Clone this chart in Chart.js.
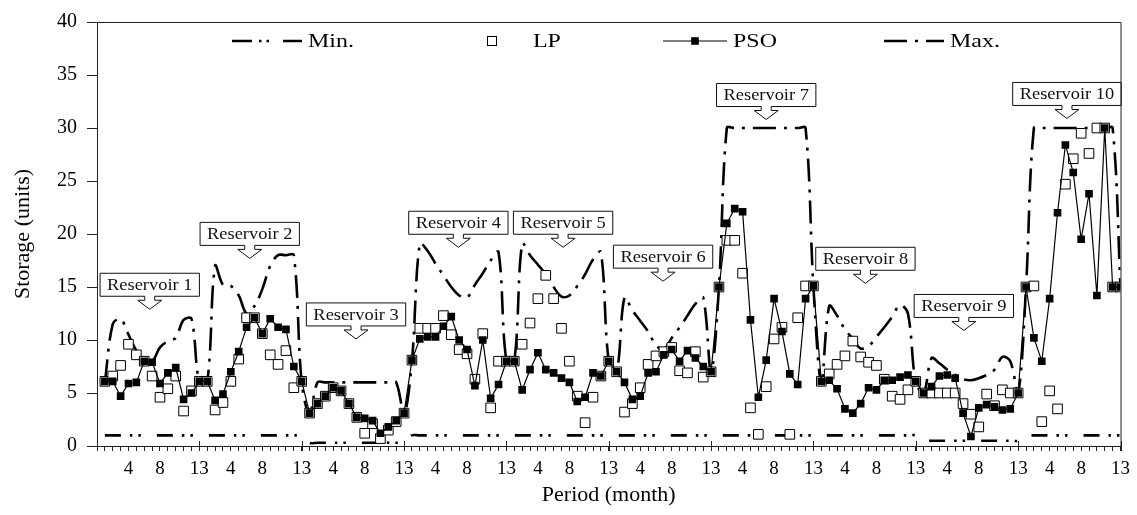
<!DOCTYPE html>
<html>
<head>
<meta charset="utf-8">
<title>Storage by period</title>
<script src="https://cdn.jsdelivr.net/npm/chart.js@4.4.1/dist/chart.umd.min.js"></script>
<style>
  body { margin: 0; background: #fff; }
  #wrap { width: 1137px; height: 515px; }
</style>
</head>
<body>
<div id="wrap"><canvas id="storageChart" width="1137" height="515"></canvas></div>
<script>
// 10 reservoirs, 13 periods each (periods 1..130 on the x axis)
var reservoirNames = ['Reservoir 1', 'Reservoir 2', 'Reservoir 3', 'Reservoir 4', 'Reservoir 5',
                      'Reservoir 6', 'Reservoir 7', 'Reservoir 8', 'Reservoir 9', 'Reservoir 10'];
var monthsPerReservoir = 13;
var monthTickLabels = [4, 8, 13];
var storageTicks = [0, 5, 10, 15, 20, 25, 30, 35, 40];

var psoStorage = [
  6.1, 6.1, 4.7, 5.9, 6.0, 8.0, 7.9, 5.9, 6.9, 7.4, 4.4, 5.0, 6.1,
  6.1, 4.3, 4.9, 7.0, 8.9, 11.2, 12.1, 10.6, 12.0, 11.2, 11.0, 7.5, 6.1,
  3.1, 4.0, 4.7, 5.5, 5.2, 4.0, 2.7, 2.6, 2.4, 1.2, 1.8, 2.4, 3.1,
  8.1, 10.1, 10.3, 10.3, 11.3, 12.2, 10.0, 9.1, 5.7, 10.0, 4.5, 5.8, 8.0,
  8.0, 5.3, 7.2, 8.8, 7.2, 6.9, 6.4, 6.0, 4.2, 4.6, 6.9, 6.6, 8.0,
  7.0, 6.0, 4.4, 4.7, 6.9, 7.0, 8.6, 9.1, 8.0, 9.0, 8.3, 7.5, 7.0,
  15.0, 21.0, 22.4, 22.1, 11.9, 4.6, 8.1, 13.9, 10.8, 6.8, 5.8, 13.9, 15.1,
  6.1, 6.2, 5.4, 3.5, 3.1, 4.0, 5.5, 5.3, 6.2, 6.2, 6.5, 6.7, 6.1,
  5.0, 5.6, 6.6, 6.7, 6.4, 3.1, 0.9, 3.6, 3.9, 3.7, 3.4, 3.5, 5.0,
  15.0, 10.2, 8.0, 13.9, 22.0, 28.4, 25.8, 19.5, 23.8, 14.2, 30.0, 15.0, 15.0
];

var lpStorage = [
  6.1, 6.6, 7.6, 9.6, 8.6, 8.0, 6.6, 4.6, 5.4, 6.6, 3.3, 5.2, 6.1,
  6.1, 3.4, 4.1, 6.1, 8.2, 12.1, 12.1, 10.6, 8.6, 7.7, 9.0, 5.5, 6.1,
  3.1, 4.0, 4.7, 5.5, 5.2, 4.0, 2.7, 1.2, 2.1, 0.7, 1.5, 2.3, 3.1,
  8.1, 11.1, 11.1, 11.1, 12.3, 10.5, 9.1, 8.7, 6.3, 10.6, 3.6, 8.0, 8.0,
  8.0, 9.6, 11.6, 13.9, 16.1, 13.9, 11.1, 8.0, 4.7, 2.2, 4.6, 6.6, 8.0,
  7.0, 3.2, 4.0, 5.5, 7.7, 8.5, 8.9, 9.3, 7.1, 6.9, 8.9, 6.5, 7.0,
  15.0, 19.4, 19.4, 16.3, 3.6, 1.1, 5.6, 10.1, 11.2, 1.1, 12.1, 15.1, 15.1,
  6.1, 6.8, 7.7, 8.5, 9.9, 8.4, 7.9, 7.6, 6.3, 4.7, 4.4, 5.3, 6.1,
  5.0, 5.0, 5.0, 5.0, 5.0, 4.0, 3.0, 1.8, 4.9, 3.8, 5.3, 5.0, 5.0,
  15.0, 15.1, 2.3, 5.2, 3.5, 24.7, 27.1, 29.5, 27.6, 30.0, 30.0, 15.0, 15.0
];

var maxStorage = [
  6, 11.5, 12, 10.5, 9, 8.1, 8.0, 9.3, 9.9, 10.2, 11.9, 12, 6,
  6, 17, 15.2, 15.1, 14.2, 12.5, 13.2, 14.8, 17, 18, 18, 18, 6,
  3, 6, 6, 6, 6, 6, 6, 6, 6, 6, 6, 6, 3,
  8, 19.1, 18.4, 17.2, 16.1, 15, 14.2, 14, 15.2, 16.3, 17.5, 18.3, 8,
  8, 19.1, 18, 17.1, 16.2, 15, 14.1, 14.2, 15.1, 16.2, 17.6, 18.3, 8,
  7, 14, 12.8, 11.8, 10.8, 9.5, 9.1, 10.2, 11.2, 12.3, 13.4, 14, 7,
  15, 30, 30, 30, 30, 30, 30, 30, 30, 30, 30, 30, 15,
  6, 13.2, 12.3, 11, 10.1, 9.2, 9.4, 10.3, 11.2, 12.2, 13.3, 12.5, 6,
  5, 8.3, 7.8, 7.2, 6.7, 6.3, 6.2, 6.4, 6.7, 7.2, 8.4, 8.0, 5,
  15, 30, 30, 30, 30, 30, 30, 30, 30, 30, 30, 30, 15
];

var minStorage = [
  1, 1, 1, 1, 1, 1, 1, 1, 1, 1, 1, 1, 1,
  1, 1, 1, 1, 1, 1, 1, 1, 1, 1, 1, 1, 1,
  0.3, 0.3, 0.3, 0.3, 0.3, 0.3, 0.3, 0.3, 0.3, 0.3, 0.3, 0.3, 0.3,
  1, 1, 1, 1, 1, 1, 1, 1, 1, 1, 1, 1, 1,
  1, 1, 1, 1, 1, 1, 1, 1, 1, 1, 1, 1, 1,
  1, 1, 1, 1, 1, 1, 1, 1, 1, 1, 1, 1, 1,
  1, 1, 1, 1, 1, 1, 1, 1, 1, 1, 1, 1, 1,
  1, 1, 1, 1, 1, 1, 1, 1, 1, 1, 1, 1, 1,
  0.5, 0.5, 0.5, 0.5, 0.5, 0.5, 0.5, 0.5, 0.5, 0.5, 0.5, 0.5, 0.5,
  1, 1, 1, 1, 1, 1, 1, 1, 1, 1, 1, 1, 1
];

// where each reservoir callout sits: centre period and arrow tip (storage units)
var calloutAnchors = [
  { x: 6.7, tip: 12.9 }, { x: 19.4, tip: 17.7 }, { x: 32.9, tip: 10.1 },
  { x: 45.9, tip: 18.75 }, { x: 59.2, tip: 18.75 }, { x: 71.9, tip: 15.55 },
  { x: 85.0, tip: 30.8 }, { x: 97.6, tip: 15.35 }, { x: 110.1, tip: 10.9 },
  { x: 123.2, tip: 30.9 }
];

var SERIF = '"Liberation Serif", "Times New Roman", serif';
var MIN_DASH = [16, 9, 2.5, 6, 2.5, 16];
var MAX_DASH = [23, 8, 3, 8];

function toPoints(values) {
  return values.map(function (v, i) { return { x: i + 1, y: v }; });
}

function stretchedText(ctx, text, x, y, sx) {
  ctx.save();
  ctx.translate(x, y);
  ctx.scale(sx, 1);
  ctx.fillText(text, 0, 0);
  ctx.restore();
}

// top/right frame plus the longer ticks between reservoirs
var framePlugin = {
  id: 'frame',
  afterDraw: function (chart) {
    var ctx = chart.ctx, a = chart.chartArea, xs = chart.scales.x;
    ctx.save();
    ctx.strokeStyle = '#222';
    ctx.lineWidth = 1;
    ctx.beginPath();
    ctx.moveTo(a.left, a.top + 0.5);
    ctx.lineTo(a.right + 0.5, a.top + 0.5);
    ctx.lineTo(a.right + 0.5, a.bottom);
    for (var k = 1; k <= reservoirNames.length; k++) {
      var px = Math.round(xs.getPixelForValue(k * monthsPerReservoir)) + 0.5;
      ctx.moveTo(px, a.bottom - 5);
      ctx.lineTo(px, a.bottom + 5);
    }
    ctx.stroke();
    ctx.restore();
  }
};

// "Reservoir n" boxes with a hollow down arrow
var calloutPlugin = {
  id: 'callouts',
  afterDatasetsDraw: function (chart) {
    var ctx = chart.ctx, xs = chart.scales.x, ys = chart.scales.y;
    ctx.save();
    ctx.font = '16px ' + SERIF;
    ctx.textAlign = 'center';
    ctx.textBaseline = 'middle';
    calloutAnchors.forEach(function (c, i) {
      var name = reservoirNames[i];
      var cx = xs.getPixelForValue(c.x);
      var tip = ys.getPixelForValue(c.tip);
      var w = ctx.measureText(name).width * 1.15 + 14;
      var bottom = tip - 13, top = bottom - 23;
      var left = cx - w / 2, right = cx + w / 2;
      ctx.beginPath();
      ctx.moveTo(left, top);
      ctx.lineTo(right, top);
      ctx.lineTo(right, bottom);
      ctx.lineTo(cx + 5, bottom);
      ctx.lineTo(cx + 5, bottom + 4);
      ctx.lineTo(cx + 12, bottom + 4);
      ctx.lineTo(cx, tip);
      ctx.lineTo(cx - 12, bottom + 4);
      ctx.lineTo(cx - 5, bottom + 4);
      ctx.lineTo(cx - 5, bottom);
      ctx.lineTo(left, bottom);
      ctx.closePath();
      ctx.fillStyle = '#fff';
      ctx.fill();
      ctx.strokeStyle = '#111';
      ctx.lineWidth = 1;
      ctx.stroke();
      ctx.fillStyle = '#111';
      stretchedText(ctx, name, cx, (top + bottom) / 2 + 1, 1.15);
    });
    ctx.restore();
  }
};

// legend row across the top of the plot
var legendPlugin = {
  id: 'topLegend',
  afterDraw: function (chart) {
    var ctx = chart.ctx, y = 41;
    ctx.save();
    ctx.strokeStyle = '#000';
    ctx.fillStyle = '#000';

    ctx.lineWidth = 2.6;
    ctx.setLineDash([20, 7, 2.5, 5, 2.5, 14]);
    ctx.beginPath(); ctx.moveTo(232, y); ctx.lineTo(302, y); ctx.stroke();

    ctx.setLineDash(MAX_DASH);
    ctx.beginPath(); ctx.moveTo(884, y); ctx.lineTo(944, y); ctx.stroke();
    ctx.setLineDash([]);

    ctx.lineWidth = 1.2;
    ctx.beginPath(); ctx.moveTo(663, y); ctx.lineTo(727, y); ctx.stroke();
    ctx.fillRect(695 - 3.8, y - 3.8, 7.6, 7.6);

    ctx.lineWidth = 1;
    ctx.fillStyle = '#fff';
    ctx.fillRect(487.5, y - 4.5, 9, 9);
    ctx.strokeRect(487.5, y - 4.5, 9, 9);

    ctx.fillStyle = '#000';
    ctx.font = '18px ' + SERIF;
    ctx.textBaseline = 'alphabetic';
    ctx.textAlign = 'left';
    stretchedText(ctx, 'Min.', 308, 47, 1.33);
    stretchedText(ctx, 'LP', 533, 47, 1.33);
    stretchedText(ctx, 'PSO', 733, 47, 1.33);
    stretchedText(ctx, 'Max.', 950, 47, 1.33);
    ctx.restore();
  }
};

var canvas = document.getElementById('storageChart').getContext('2d');
var chart = new Chart(canvas, {
  type: 'line',
  data: {
    datasets: [{
      label: 'PSO',
      data: toPoints(psoStorage),
      borderColor: '#000',
      borderWidth: 1.2,
      pointStyle: 'rect',
      pointRadius: 5.4,
      pointBackgroundColor: '#000',
      pointBorderColor: '#000',
      pointBorderWidth: 0,
      tension: 0,
      order: 0
    }, {
      label: 'LP',
      data: toPoints(lpStorage),
      showLine: false,
      pointStyle: 'rect',
      pointRadius: 6.8,
      pointBackgroundColor: '#fff',
      pointBorderColor: '#000',
      pointBorderWidth: 1,
      order: 1
    }, {
      label: 'Max.',
      data: toPoints(maxStorage),
      borderColor: '#000',
      borderWidth: 2.6,
      borderDash: MAX_DASH,
      pointRadius: 0,
      tension: 0.35,
      order: 2
    }, {
      label: 'Min.',
      data: toPoints(minStorage),
      borderColor: '#000',
      borderWidth: 2.6,
      borderDash: MIN_DASH,
      pointRadius: 0,
      tension: 0.35,
      order: 3
    }]
  },
  options: {
    responsive: false,
    animation: false,
    events: [],
    layout: { padding: { top: 15, right: 14, left: 0, bottom: 0 } },
    plugins: {
      legend: { display: false },
      tooltip: { enabled: false }
    },
    scales: {
      x: {
        type: 'linear',
        min: 0,
        max: reservoirNames.length * monthsPerReservoir,
        afterFit: function (scale) { scale.height = 69; },
        ticks: {
          stepSize: 1,
          maxTicksLimit: 200,
          autoSkip: false,
          minRotation: 0,
          maxRotation: 0,
          padding: 7,
          color: '#000',
          font: { family: SERIF, size: 19 },
          callback: function (value) {
            if (value <= 0) return '';
            var month = ((value - 1) % monthsPerReservoir) + 1;
            return monthTickLabels.indexOf(month) >= 0 ? String(month) : '';
          }
        },
        grid: { drawOnChartArea: false, tickLength: 5, color: '#222' },
        border: { color: '#222', width: 1 },
        title: {
          display: true,
          text: 'Period (month)',
          color: '#000',
          font: { family: SERIF, size: 22 },
          padding: { top: 0, bottom: 7 }
        }
      },
      y: {
        min: 0,
        max: 40,
        afterFit: function (scale) { scale.width = 97; },
        afterBuildTicks: function (scale) {
          scale.ticks = storageTicks.map(function (v) { return { value: v }; });
        },
        ticks: {
          padding: 10,
          color: '#000',
          font: { family: SERIF, size: 20 }
        },
        grid: { drawOnChartArea: false, tickLength: 10, color: '#222' },
        border: { color: '#222', width: 1 },
        title: {
          display: true,
          text: 'Storage (units)',
          color: '#000',
          font: { family: SERIF, size: 22 },
          padding: { top: 10, bottom: 0 }
        }
      }
    }
  },
  plugins: [framePlugin, calloutPlugin, legendPlugin]
});
</script>
</body>
</html>
